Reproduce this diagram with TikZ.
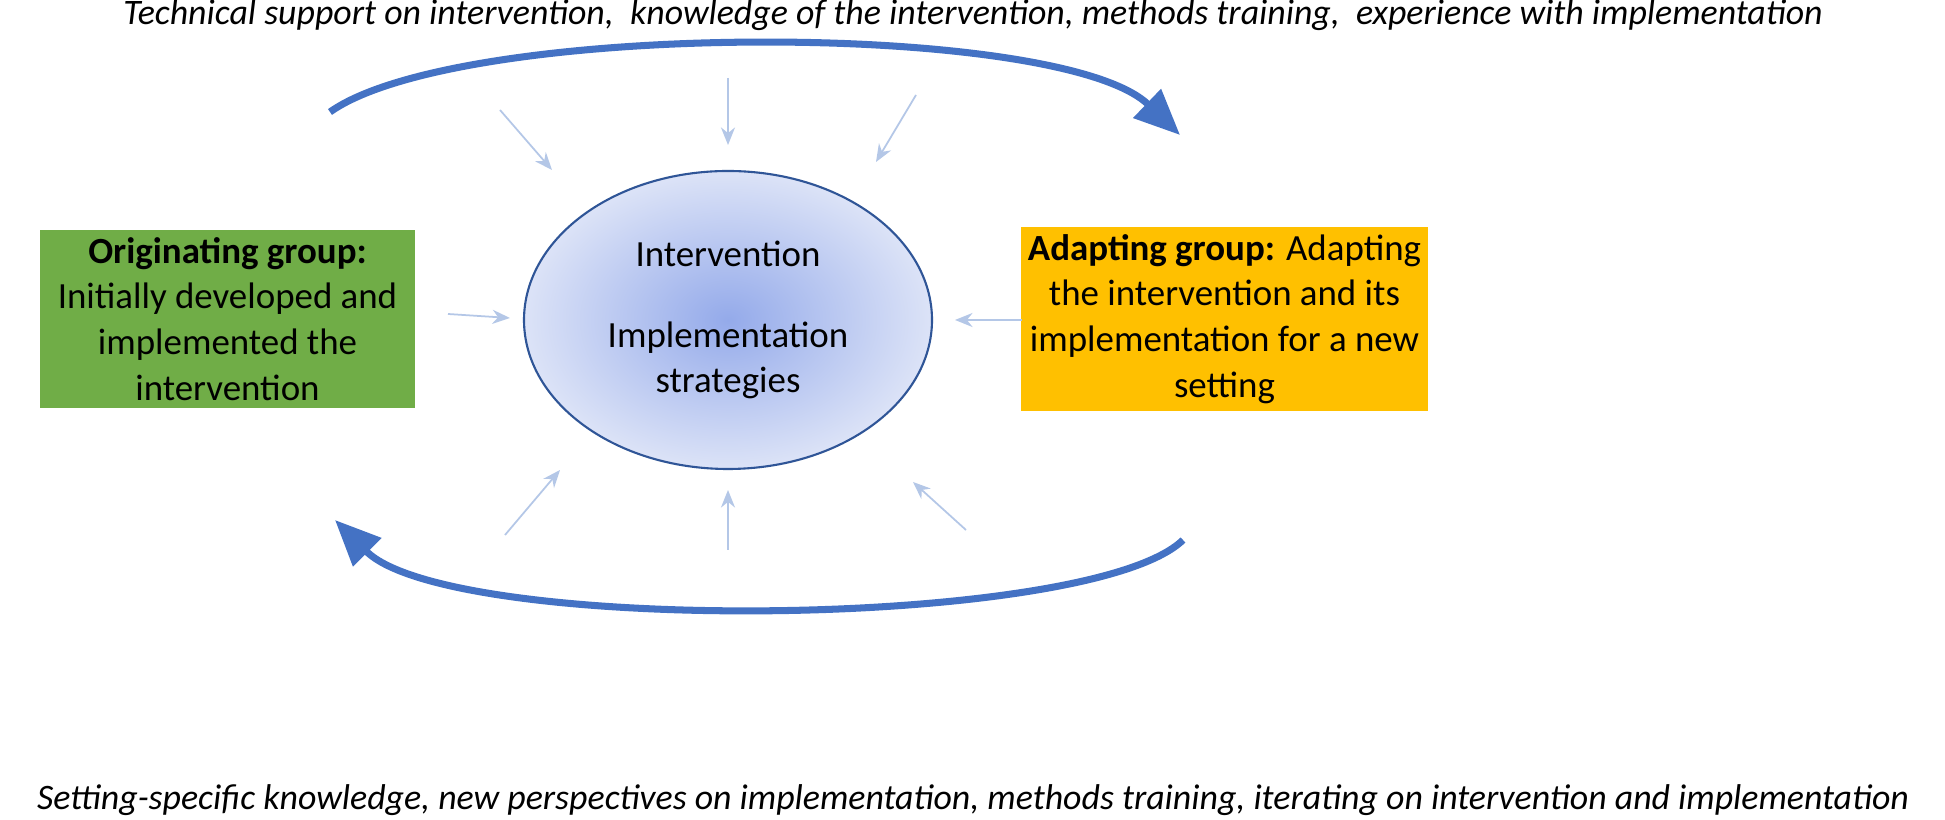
\documentclass[tikz,border=0pt]{standalone}
\usepackage{fontspec}
\setmainfont{Carlito}
\usetikzlibrary{arrows.meta,shapes.geometric}
\definecolor{bigblue}{HTML}{4472C4}
\definecolor{thinblue}{HTML}{B4C7E7}
\definecolor{ellborder}{HTML}{2F5597}
\definecolor{grn}{HTML}{70AD47}
\definecolor{org}{HTML}{FFC000}
\definecolor{ellin}{HTML}{94AAEA}
\definecolor{ellout}{HTML}{DCE3F7}
\tikzset{
  bigarrow/.style={draw=bigblue,line width=2pt,-{Triangle[length=13pt,width=11pt]}},
  small/.style={draw=thinblue,line width=0.5pt,-{Stealth[length=5pt,width=4pt]}},
  box/.style={minimum width=3.75cm,minimum height=1.78cm,align=center,font=\fontsize{10.5}{13}\selectfont,inner sep=2pt},
  captext/.style={font=\fontsize{10.2}{12}\selectfont\itshape}
}
\begin{document}
\begin{tikzpicture}[x=1cm,y=1cm]
\fill[white] (0,0) rectangle (19.45,8.2);
\node[captext] (top) at (9.73,8.05) {Technical support on intervention,\ \ knowledge of the intervention, methods training,\ \ experience with implementation};
\node[captext] (bot) at (9.73,0.2) {Setting-specific knowledge, new perspectives on implementation, methods training, iterating on intervention and implementation};
\node[draw=ellborder,line width=0.6pt,ellipse,minimum width=4.08cm,minimum height=2.98cm,inner color=ellin,outer color=ellout,align=center,font=\fontsize{10.5}{13}\selectfont] (ell) at (7.28,5.0) {Intervention\\[10pt]Implementation\\strategies};
\node[box,fill=grn] (orig) at (2.275,5.01) {\textbf{Originating group:}\\Initially developed and\\implemented the\\intervention};
\node[box,fill=org] (adap) at (12.245,5.01) {\textbf{Adapting group:} Adapting\\the intervention and its\\implementation for a new\\setting};
\coordinate (t1) at (3.30,7.08);
\coordinate (t2) at (11.80,6.85);
\draw[bigarrow] (t1) .. controls (4.6,8.0) and (10.6,8.0) .. (t2);
\coordinate (b1) at (11.83,2.8);
\coordinate (b2) at (3.35,3.0);
\draw[bigarrow] (b1) .. controls (10.9,1.9) and (4.5,1.85) .. (b2);
\foreach \a/\b/\c/\d [count=\i] in {5.00/7.10/5.52/6.50, 7.28/7.42/7.28/6.75, 9.16/7.25/8.76/6.58, 4.48/5.06/5.10/5.02, 10.22/5.00/9.55/5.00, 5.05/2.85/5.60/3.50, 7.28/2.70/7.28/3.30, 9.66/2.90/9.13/3.38}{
  \coordinate (s\i) at (\a,\b);
  \coordinate (e\i) at (\c,\d);
  \draw[small] (s\i) -- (e\i);
}
\pgfresetboundingbox
\useasboundingbox (0,0) rectangle (19.45,8.2);
\end{tikzpicture}
\end{document}
